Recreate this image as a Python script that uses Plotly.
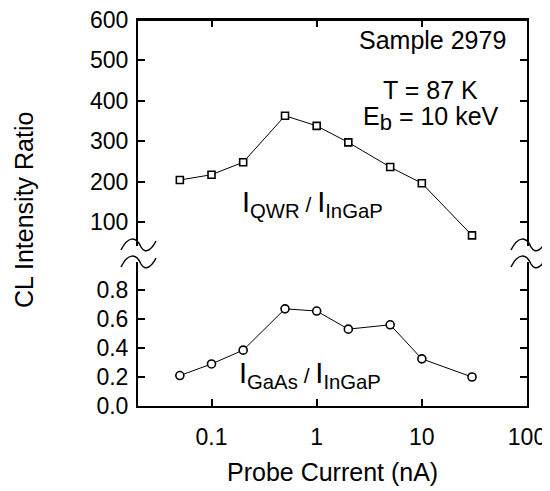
import math
import plotly.graph_objects as go

# ---- data ----
probe_current = [0.05, 0.1, 0.2, 0.5, 1, 2, 5, 10, 30]
ratio_qwr_ingap = [204, 217, 248, 363, 338, 297, 236, 196, 67]
ratio_gaas_ingap = [0.21, 0.29, 0.385, 0.67, 0.655, 0.53, 0.56, 0.325, 0.20]

x_tickvals = [0.1, 1, 10, 100]
x_ticktext = ["0.1", "1", "10", "100"]
top_tickvals = [100, 200, 300, 400, 500, 600]
bot_tickvals = [0.0, 0.2, 0.4, 0.6, 0.8]
bot_ticktext = ["0.0", "0.2", "0.4", "0.6", "0.8"]
top_range = [40.6, 600]
bot_range = [0, 0.993]

FONT = "Liberation Sans, Arial, Helvetica, sans-serif"
OFF = 8  # default page body margin
W, H = 550 - OFF, 491 - OFF
# plot area in screen pixels: x 138..527, y 20..406
ML, MT = 138 - OFF, 20 - OFF
MR = W - (527 - OFF)
MB = H - (406 - OFF)
PW, PH = W - ML - MR, H - MT - MB

def py(pix):  # screen pixel y -> paper y
    return (406 - pix) / PH

def px(pix):  # screen pixel x -> paper x
    return (pix - 138) / PW

top_dom = [py(246), 1.0]
bot_dom = [0.0, py(262)]

fig = go.Figure()
fig.add_trace(go.Scatter(
    x=probe_current, y=ratio_qwr_ingap, xaxis="x2", yaxis="y2",
    mode="lines+markers",
    line=dict(color="black", width=1),
    marker=dict(symbol="square", size=7, color="white",
                line=dict(color="black", width=1.6)),
    showlegend=False))
fig.add_trace(go.Scatter(
    x=probe_current, y=ratio_gaas_ingap, xaxis="x", yaxis="y",
    mode="lines+markers",
    line=dict(color="black", width=1),
    marker=dict(symbol="circle", size=8, color="white",
                line=dict(color="black", width=1.6)),
    showlegend=False))

TICKLEN = 7
axis_common = dict(showline=True, linecolor="black", linewidth=2,
                   ticks="inside", ticklen=TICKLEN, tickwidth=1.5, tickcolor="black",
                   showgrid=False, zeroline=False, ticklabeloverflow="allow",
                   automargin=False,
                   tickfont=dict(family=FONT, size=23, color="black"))

fig.update_layout(
    width=W, height=H,
    margin=dict(l=ML, r=MR, t=MT, b=MB, autoexpand=False),
    paper_bgcolor="white", plot_bgcolor="white",
    xaxis=dict(type="log", range=[-1.699, 2], anchor="y", domain=[0, 1],
               tickvals=x_tickvals, ticktext=x_ticktext,
               ticklabelstandoff=9, **axis_common),
    xaxis2=dict(type="log", range=[-1.699, 2], anchor="y2", domain=[0, 1],
                matches="x", side="top", tickvals=x_tickvals,
                showticklabels=False, **axis_common),
    yaxis=dict(domain=bot_dom, range=bot_range, anchor="x",
               tickvals=bot_tickvals, ticktext=bot_ticktext, mirror="ticks",
               ticklabelstandoff=3, **axis_common),
    yaxis2=dict(domain=top_dom, range=top_range, anchor="x2",
                tickvals=top_tickvals, mirror="ticks",
                ticklabelstandoff=3, **axis_common),
)

ann = []
def add_text(text, x, y, size, angle=0):
    ann.append(dict(text=text, xref="paper", yref="paper",
                    x=px(x), y=py(y), textangle=angle, showarrow=False,
                    xanchor="center", yanchor="middle",
                    font=dict(family=FONT, size=size, color="black")))

add_text("CL Intensity Ratio", 24, 210, 25, -90)
add_text("Probe Current (nA)", 332, 472, 25)
add_text("Sample 2979", 432, 40, 25)
add_text("T = 87 K", 430, 90, 25)
add_text("E<sub><span style='font-size:22px'>b</span></sub> = 10 keV", 431, 118, 25)
add_text("I<sub>QWR</sub><span style='font-size:21px'> / </span>I<sub>InGaP</sub>", 312, 204, 29)
add_text("I<sub>GaAs</sub><span style='font-size:21px'> / </span>I<sub>InGaP</sub>", 310, 375, 29)
fig.update_layout(annotations=ann)

# axis-break symbols (two waves on each vertical axis)
def wave(cx, cy):
    pts = [(cx - 17, cy + 5), (cx - 10, cy - 9), (cx - 2, cy - 9), (cx + 3, cy + 2),
           (cx + 8, cy + 11), (cx + 15, cy + 2), (cx + 18, cy - 4)]
    d = "M {},{} C {},{} {},{} {},{} C {},{} {},{} {},{}".format(
        px(pts[0][0]), py(pts[0][1]),
        px(pts[1][0]), py(pts[1][1]), px(pts[2][0]), py(pts[2][1]),
        px(pts[3][0]), py(pts[3][1]),
        px(pts[4][0]), py(pts[4][1]), px(pts[5][0]), py(pts[5][1]),
        px(pts[6][0]), py(pts[6][1]))
    return dict(type="path", xref="paper", yref="paper", path=d,
                line=dict(color="black", width=1.5))

shapes = []
for cx in (138, 528):
    shapes.append(wave(cx, 245))
    shapes.append(wave(cx, 262))
# top frame line and its inward ticks, placed through the axes' own scales
ytop = top_range[1]
tick_units = TICKLEN * (top_range[1] - top_range[0]) / ((top_dom[1] - top_dom[0]) * PH)
shapes.append(dict(type="line", xref="paper", yref="y2", x0=0, x1=1, y0=ytop, y1=ytop,
                   layer="above", line=dict(color="black", width=2)))
for v in x_tickvals[:-1]:
    shapes.append(dict(type="line", xref="x2", yref="y2",
                       x0=math.log10(v), x1=math.log10(v),
                       y0=ytop, y1=ytop - tick_units, layer="above",
                       line=dict(color="black", width=1.5)))
fig.update_layout(shapes=shapes)

fig.write_html("out.html")
